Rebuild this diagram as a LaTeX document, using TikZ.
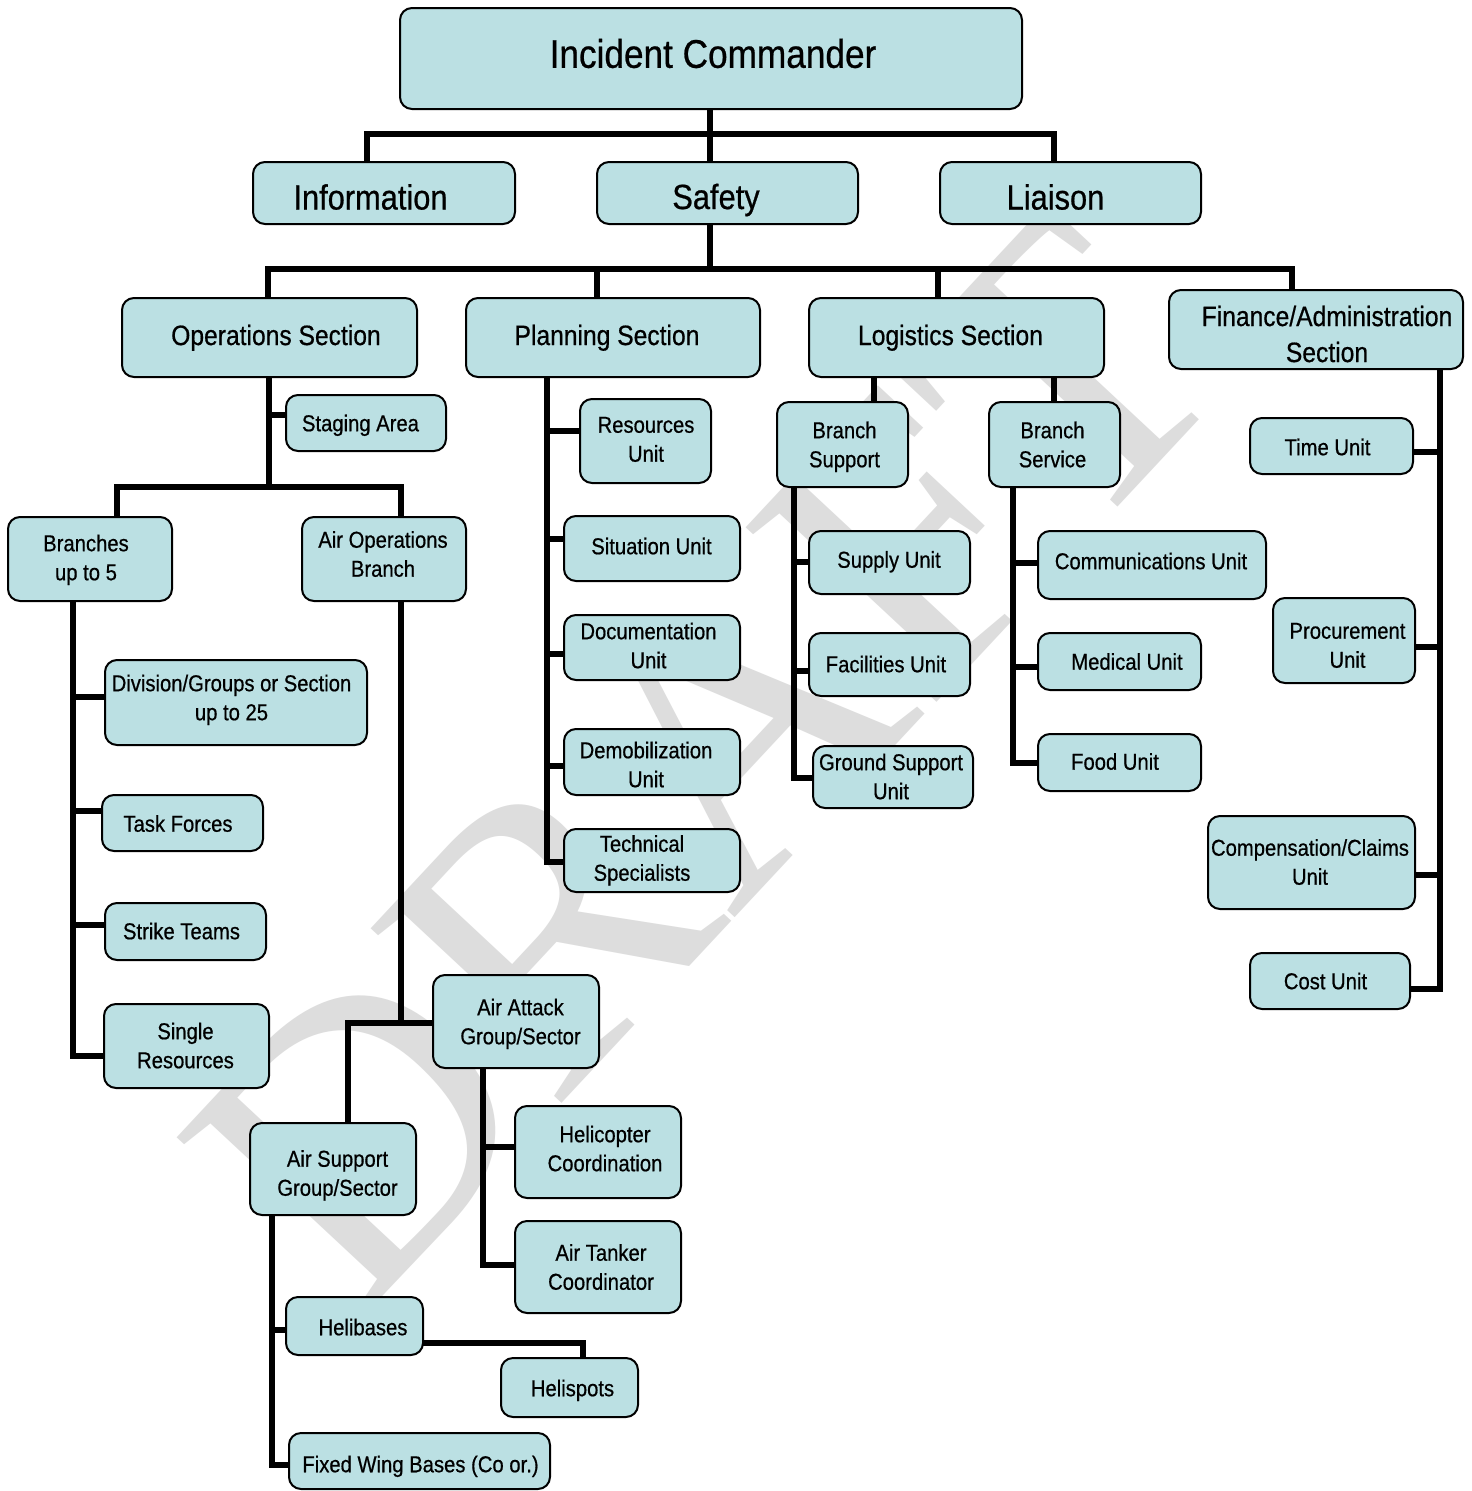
\documentclass[tikz,border=0pt]{standalone}
\usepackage{fontspec}
\setmainfont{Liberation Sans}[FakeStretch=0.88,FakeBold=0.6]
\newfontfamily\wmfont{Liberation Serif}
\definecolor{boxfill}{HTML}{BBE0E3}
\definecolor{wmgray}{HTML}{DDDDDD}
\pgfdeclarelayer{wmlayer}
\pgfdeclarelayer{lines}
\pgfsetlayers{wmlayer,lines,main}
\newcommand\fsA{\fontsize{40}{48}\selectfont}
\newcommand\fsB{\fontsize{35}{42}\selectfont}
\newcommand\fsC{\fontsize{28}{36}\selectfont}
\newcommand\fsD{\fontsize{23}{29}\selectfont}
% strut symmetric about the cap-height centre
\newcommand\cs{\rule[-0.242em]{0pt}{1.2em}}
\newcommand\nl{\\\cs}
% box: [text options]{name}{x1}{y1}{x2}{y2}{text x}{text y}{text}
\newcommand\ubox[9][]{%
  \node[box, minimum width={#5-#3}, minimum height={#6-#4}] (#2) at ({(#3+#5)/2},{(#4+#6)/2}) {};
  \node[txt, #1] (#2-t) at (#7,#8) {\cs #9};}
\tikzset{
  box/.style={draw, line width=2pt, rounded corners=12pt, fill=boxfill, inner sep=0pt},
  txt/.style={inner sep=0pt, align=center, font=\fsD, text=black},
  conn/.style={line width=6pt, line cap=rect, line join=miter},
  wm/.style={text=wmgray, font=\wmfont\fontsize{395}{395}\selectfont, inner sep=0pt}
}
\begin{document}
\begin{tikzpicture}[x=1pt, y=-1pt]
\useasboundingbox (0,0) rectangle (1472,1491);
\begin{pgfonlayer}{wmlayer}
\fill[white] (0,0) rectangle (1472,1491);
\node[wm, rotate=47] (wm) at (705,760) {DRAFT};
\end{pgfonlayer}

% ---- boxes ----
\ubox[font=\fsA]{ic}{400}{8}{1022}{109}{713}{53.5}{Incident Commander}
\ubox[font=\fsB]{info}{253}{162}{515}{224}{370.5}{197}{Information}
\ubox[font=\fsB]{safety}{597}{162}{858}{224}{716}{196.5}{Safety}
\ubox[font=\fsB]{liaison}{940}{162}{1201}{224}{1055.5}{197}{Liaison}
\ubox[font=\fsC]{ops}{122}{298}{417}{377}{276}{335}{Operations Section}
\ubox[font=\fsC]{plan}{466}{298}{760}{377}{607}{335}{Planning Section}
\ubox[font=\fsC]{log}{809}{298}{1104}{377}{950.5}{335}{Logistics Section}
\ubox[font=\fsC]{fin}{1169}{290}{1463}{369}{1327}{334}{Finance/Administration\nl Section}
\ubox{staging}{286}{395}{446}{451}{360.5}{423}{Staging Area}
\ubox{branches}{8}{517}{172}{601}{86}{557.5}{Branches\nl up to 5}
\ubox{airops}{302}{517}{466}{601}{383}{554}{Air Operations\nl Branch}
\ubox{division}{105}{660}{367}{745}{231.5}{697.5}{Division/Groups or Section\nl up to 25}
\ubox{task}{102}{795}{263}{851}{178}{823.5}{Task Forces}
\ubox{strike}{105}{903}{266}{960}{181.5}{931}{Strike Teams}
\ubox{single}{104}{1004}{269}{1088}{185.5}{1045.5}{Single\nl Resources}
\ubox{airattack}{433}{975}{599}{1068}{520.5}{1021.5}{Air Attack\nl Group/Sector}
\ubox{airsupport}{250}{1123}{416}{1215}{337.5}{1173}{Air Support\nl Group/Sector}
\ubox{heli}{515}{1106}{681}{1198}{605}{1148.5}{Helicopter\nl Coordination}
\ubox{tanker}{515}{1221}{681}{1313}{601}{1267}{Air Tanker\nl Coordinator}
\ubox{helibases}{286}{1297}{423}{1355}{363}{1327}{Helibases}
\ubox{helispots}{501}{1358}{638}{1417}{572.5}{1388}{Helispots}
\ubox{fixed}{289}{1433}{550}{1489}{420.5}{1464}{Fixed Wing Bases (Co or.)}
\ubox{resources}{580}{399}{711}{483}{646}{439}{Resources\nl Unit}
\ubox{situation}{564}{516}{740}{581}{651.5}{546}{Situation Unit}
\ubox{documentation}{564}{615}{740}{680}{648.5}{645.5}{Documentation\nl Unit}
\ubox{demob}{564}{729}{740}{795}{646}{764.5}{Demobilization\nl Unit}
\ubox{technical}{564}{829}{740}{892}{642}{858}{Technical\nl Specialists}
\ubox{bsupport}{777}{402}{908}{487}{844.5}{444.5}{Branch\nl Support}
\ubox{bservice}{989}{402}{1120}{487}{1052.5}{444.5}{Branch\nl Service}
\ubox{supply}{809}{531}{970}{594}{889}{559.5}{Supply Unit}
\ubox{facilities}{809}{633}{970}{696}{886}{664}{Facilities Unit}
\ubox{ground}{813}{746}{973}{808}{891}{776.5}{Ground Support\nl Unit}
\ubox{comm}{1038}{531}{1266}{599}{1151}{561}{Communications Unit}
\ubox{medical}{1038}{633}{1201}{690}{1127}{661.5}{Medical Unit}
\ubox{food}{1038}{734}{1201}{791}{1115}{761.5}{Food Unit}
\ubox{time}{1250}{418}{1413}{474}{1327.5}{447}{Time Unit}
\ubox{procurement}{1273}{598}{1415}{683}{1347.5}{645}{Procurement\nl Unit}
\ubox{compensation}{1208}{816}{1415}{909}{1310}{862}{Compensation/Claims\nl Unit}
\ubox{cost}{1250}{953}{1410}{1009}{1325.5}{981}{Cost Unit}

% ---- connectors ----
\begin{pgfonlayer}{lines}
% top level
\coordinate (t1) at (710,134);
\coordinate (t1L) at (367,134);
\coordinate (t1R) at (1054,134);
\coordinate (t2) at (710,269);
\draw[conn] (ic.south -| t1) -- (t2);
\draw[conn] (info.north -| t1L) -- (t1L) -- (t1R) -- (liaison.north -| t1R);
% sections
\coordinate (t2L) at (268,269);
\coordinate (t2R) at (1292,269);
\coordinate (t2P) at (597,269);
\coordinate (t2G) at (938,269);
\draw[conn] (ops.north -| t2L) -- (t2L) -- (t2R) -- (fin.north -| t2R);
\draw[conn] (t2P) -- (plan.north -| t2P);
\draw[conn] (t2G) -- (log.north -| t2G);
% operations
\coordinate (o1) at (269,487);
\coordinate (o2) at (117,487);
\coordinate (o3) at (401,487);
\coordinate (os) at (269,415);
\draw[conn] (ops.south -| o1) -- (o1);
\draw[conn] (os) -- (staging.west |- os);
\draw[conn] (branches.north -| o2) -- (o2) -- (o3) -- (airops.north -| o3);
% branches
\coordinate (b0) at (73,1056);
\coordinate (b1) at (73,697);
\coordinate (b2) at (73,811);
\coordinate (b3) at (73,925);
\draw[conn] (branches.south -| b0) -- (b0) -- (single.west |- b0);
\draw[conn] (b1) -- (division.west |- b1);
\draw[conn] (b2) -- (task.west |- b2);
\draw[conn] (b3) -- (strike.west |- b3);
% air operations
\coordinate (a0) at (401,1023);
\coordinate (a1) at (348,1023);
\draw[conn] (airops.south -| a0) -- (a0) -- (airattack.west |- a0);
\draw[conn] (a0) -- (a1) -- (airsupport.north -| a1);
% air attack
\coordinate (aa0) at (483,1265);
\coordinate (aa1) at (483,1147);
\draw[conn] (airattack.south -| aa0) -- (aa0) -- (tanker.west |- aa0);
\draw[conn] (aa1) -- (heli.west |- aa1);
% air support
\coordinate (as0) at (272,1465);
\coordinate (as1) at (272,1330);
\draw[conn] (airsupport.south -| as0) -- (as0) -- (fixed.west |- as0);
\draw[conn] (as1) -- (helibases.west |- as1);
\coordinate (hs) at (583,1343);
\draw[conn] (helibases.east |- hs) -- (hs) -- (helispots.north -| hs);
% planning
\coordinate (p0) at (547,862);
\draw[conn] (plan.south -| p0) -- (p0) -- (technical.west |- p0);
\coordinate (p1) at (547,431);
\coordinate (p2) at (547,539);
\coordinate (p3) at (547,654);
\coordinate (p4) at (547,766);
\draw[conn] (p1) -- (resources.west |- p1);
\draw[conn] (p2) -- (situation.west |- p2);
\draw[conn] (p3) -- (documentation.west |- p3);
\draw[conn] (p4) -- (demob.west |- p4);
% logistics
\coordinate (l1) at (874,390);
\coordinate (l2) at (1054,390);
\draw[conn] (log.south -| l1) -- (bsupport.north -| l1);
\draw[conn] (log.south -| l2) -- (bservice.north -| l2);
\coordinate (s0) at (794,778);
\coordinate (s1) at (794,562);
\coordinate (s2) at (794,671);
\draw[conn] (bsupport.south -| s0) -- (s0) -- (ground.west |- s0);
\draw[conn] (s1) -- (supply.west |- s1);
\draw[conn] (s2) -- (facilities.west |- s2);
\coordinate (v0) at (1013,763);
\coordinate (v1) at (1013,563);
\coordinate (v2) at (1013,667);
\draw[conn] (bservice.south -| v0) -- (v0) -- (food.west |- v0);
\draw[conn] (v1) -- (comm.west |- v1);
\draw[conn] (v2) -- (medical.west |- v2);
% finance
\coordinate (f0) at (1440,989);
\coordinate (f1) at (1440,452);
\coordinate (f2) at (1440,647);
\coordinate (f3) at (1440,875);
\draw[conn] (fin.south -| f0) -- (f0) -- (cost.east |- f0);
\draw[conn] (f1) -- (time.east |- f1);
\draw[conn] (f2) -- (procurement.east |- f2);
\draw[conn] (f3) -- (compensation.east |- f3);
\end{pgfonlayer}
\end{tikzpicture}
\end{document}
